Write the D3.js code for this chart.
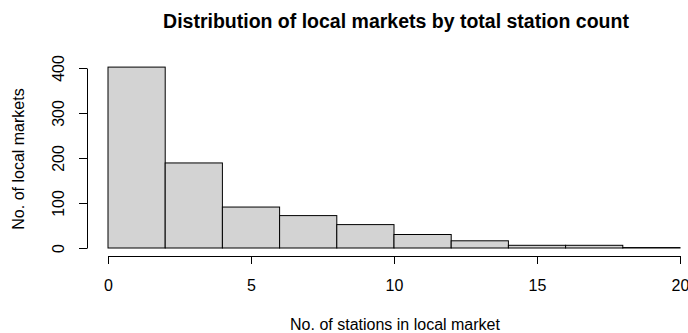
<!DOCTYPE html>
<html>
<head>
<meta charset="utf-8">
<script src="https://cdn.jsdelivr.net/npm/d3@7"></script>
<style>
  body { margin: 0; background: #fff; }
  svg { font-family: "Liberation Sans", Arial, sans-serif; }
</style>
</head>
<body>
<svg width="688" height="333"></svg>
<script>
// bin edges and counts
const binEdges = [0, 2, 4, 6, 8, 10, 12, 14, 16, 18, 20];
const counts = [402, 189, 91, 72, 52, 30, 16, 6, 6, 1];
const xTicks = [0, 5, 10, 15, 20];
const yTicks = [0, 100, 200, 300, 400];

const svg = d3.select('svg');

const x = d3.scaleLinear().domain([0, 20]).range([108, 680]);
const y = d3.scaleLinear().domain([0, 400]).range([248, 68]);

// bars
svg.append('g')
  .selectAll('rect')
  .data(counts)
  .enter().append('rect')
  .attr('x', (d, i) => x(binEdges[i]))
  .attr('y', d => y(d))
  .attr('width', (d, i) => x(binEdges[i + 1]) - x(binEdges[i]))
  .attr('height', d => y(0) - y(d))
  .attr('fill', '#d3d3d3')
  .attr('stroke', '#000')
  .attr('stroke-width', 1);

// x axis (R style, offset below)
const xAxis = svg.append('g')
  .attr('transform', 'translate(0,256)')
  .call(d3.axisBottom(x).tickValues(xTicks).tickSize(8).tickSizeOuter(0));
xAxis.select('.domain').attr('stroke', '#000');
xAxis.selectAll('text')
  .attr('font-size', 16).attr('fill', '#000')
  .attr('font-family', '"Liberation Sans", Arial, sans-serif')
  .attr('y', 35).attr('dy', null);

// y axis
const yAxis = svg.append('g')
  .attr('transform', 'translate(87,0)')
  .call(d3.axisLeft(y).tickValues(yTicks).tickSize(8).tickSizeOuter(0));
yAxis.select('.domain').attr('stroke', '#000');
yAxis.selectAll('text')
  .attr('font-size', 16).attr('fill', '#000')
  .attr('font-family', '"Liberation Sans", Arial, sans-serif')
  .attr('text-anchor', 'middle')
  .attr('dy', null)
  .attr('x', 0)
  .attr('transform', 'translate(-23,0) rotate(-90)');

// titles
svg.append('text')
  .attr('x', 396).attr('y', 28)
  .attr('text-anchor', 'middle')
  .attr('font-weight', 'bold')
  .attr('font-size', 19.5)
  .text('Distribution of local markets by total station count');

svg.append('text')
  .attr('x', 395).attr('y', 330)
  .attr('text-anchor', 'middle')
  .attr('font-size', 16)
  .text('No. of stations in local market');

svg.append('text')
  .attr('transform', 'translate(24,159) rotate(-90)')
  .attr('text-anchor', 'middle')
  .attr('font-size', 16)
  .text('No. of local markets');
</script>
</body>
</html>
